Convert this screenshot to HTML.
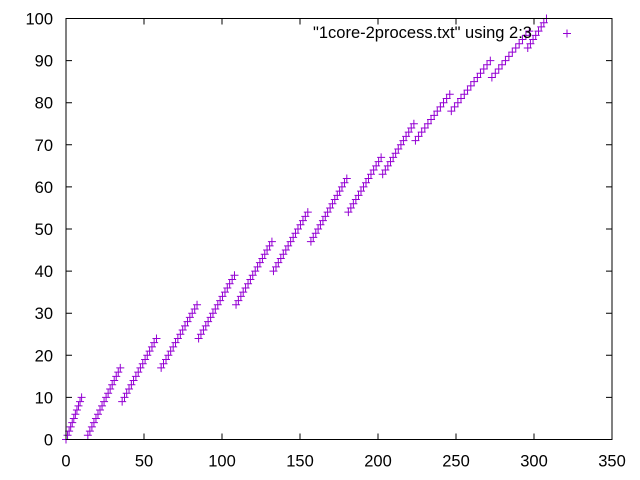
<!DOCTYPE html>
<html><head><meta charset="utf-8"><style>
body{margin:0;background:#fff}
svg{display:block;font-family:"Liberation Sans",sans-serif}
</style></head><body>
<svg id="chart" width="640" height="480" viewBox="0 0 640 480" xmlns="http://www.w3.org/2000/svg">
<rect width="640" height="480" fill="#fff"/>
<g id="ticks"></g>
<g id="pts"></g>
<rect x="66" y="18.5" width="546" height="421" fill="none" stroke="#000" stroke-width="1"/>
<text x="532" y="38" font-size="16.5" text-anchor="end" fill="#000">"1core-2process.txt" using 2:3</text>
<path d="M563 33.5h8M567 29.5v8" stroke="#9400d3" stroke-width="1"/>
</svg>
<script>
const xTicks=[0,50,100,150,200,250,300,350];
const yTicks=[0,10,20,30,40,50,60,70,80,90,100];
const xVals=[0,1,2,3,4,5,6,7,8,9,10,
14,15.3,16.6,17.9,19.2,20.5,21.8,23.1,24.4,25.7,27,28.3,29.6,30.9,32.2,33.5,34.8,
36,37.5,38.9,40.4,41.9,43.3,44.8,46.3,47.7,49.2,50.7,52.1,53.6,55.1,56.5,58,
61,62.5,64.1,65.6,67.1,68.7,70.2,71.7,73.3,74.8,76.3,77.9,79.4,80.9,82.5,84,
85,86.5,88.1,89.6,91.1,92.7,94.2,95.7,97.3,98.8,100.3,101.9,103.4,104.9,106.5,108,
109,110.5,112.1,113.6,115.1,116.7,118.2,119.7,121.3,122.8,124.3,125.9,127.4,128.9,130.5,132,
133,134.6,136.1,137.7,139.3,140.9,142.4,144,145.6,147.1,148.7,150.3,151.9,153.4,155,
157,158.5,160.1,161.6,163.1,164.7,166.2,167.7,169.3,170.8,172.3,173.9,175.4,176.9,178.5,180,
181,182.6,184.2,185.8,187.5,189.1,190.7,192.3,193.9,195.5,197.2,198.8,200.4,202,
203,204.7,206.3,208,209.7,211.3,213,214.7,216.3,218,219.7,221.3,223,
224,226,228,230,232,234,236,238,240,242,244,246,
247,249.1,251.2,253.2,255.3,257.4,259.5,261.6,263.7,265.7,267.8,269.9,272,
273,275.2,277.4,279.5,281.7,283.9,286.1,288.3,290.5,292.6,294.8,297,
296,297.7,299.4,301.1,302.9,304.6,306.3,308];
const yVals=[0,1,2,3,4,5,6,7,8,9,10,
1,2,3,4,5,6,7,8,9,10,11,12,13,14,15,16,17,
9,10,11,12,13,14,15,16,17,18,19,20,21,22,23,24,
17,18,19,20,21,22,23,24,25,26,27,28,29,30,31,32,
24,25,26,27,28,29,30,31,32,33,34,35,36,37,38,39,
32,33,34,35,36,37,38,39,40,41,42,43,44,45,46,47,
40,41,42,43,44,45,46,47,48,49,50,51,52,53,54,
47,48,49,50,51,52,53,54,55,56,57,58,59,60,61,62,
54,55,56,57,58,59,60,61,62,63,64,65,66,67,
63,64,65,66,67,68,69,70,71,72,73,74,75,
71,72,73,74,75,76,77,78,79,80,81,82,
78,79,80,81,82,83,84,85,86,87,88,89,90,
86,87,88,89,90,91,92,93,94,95,96,97,
93,94,95,96,97,98,99,100];
const L=66,R=612,T=18.5,B=439.5;
const sx=v=>L+(v-0)/350*(R-L);
const sy=v=>B-(v-0)/100*(B-T);
const NS='http://www.w3.org/2000/svg';
const tg=document.getElementById('ticks');
function mk(tag,a){const e=document.createElementNS(NS,tag);for(const k in a)e.setAttribute(k,a[k]);return e;}
xTicks.forEach(t=>{
 const x=sx(t);
 const p=mk('path',{d:`M${x} ${B}v-6M${x} ${T}v6`,stroke:'#000','stroke-width':1});
 
 
 tg.appendChild(p);
 const tx=mk('text',{x:x,y:B+27,'font-size':16.5,'text-anchor':'middle'});
 
 
 tx.textContent=t;tg.appendChild(tx);
});
yTicks.forEach(t=>{
 const y=sy(t);
 const p=mk('path',{d:`M${L} ${y}h6M${R} ${y}h-6`,stroke:'#000','stroke-width':1});
 
 
 tg.appendChild(p);
 const tx=mk('text',{x:L-13,y:y+6,'font-size':16.5,'text-anchor':'end'});
 
 
 tx.textContent=t;tg.appendChild(tx);
});
const pg=document.getElementById('pts');
xVals.forEach((xv,i)=>{
 const x=sx(xv),y=sy(yVals[i]);
 const p=mk('path',{d:`M${x-4} ${y}h8M${x} ${y-4}v8`,stroke:'#9400d3','stroke-width':1});
 
 
 pg.appendChild(p);
});
</script>
</body></html>
